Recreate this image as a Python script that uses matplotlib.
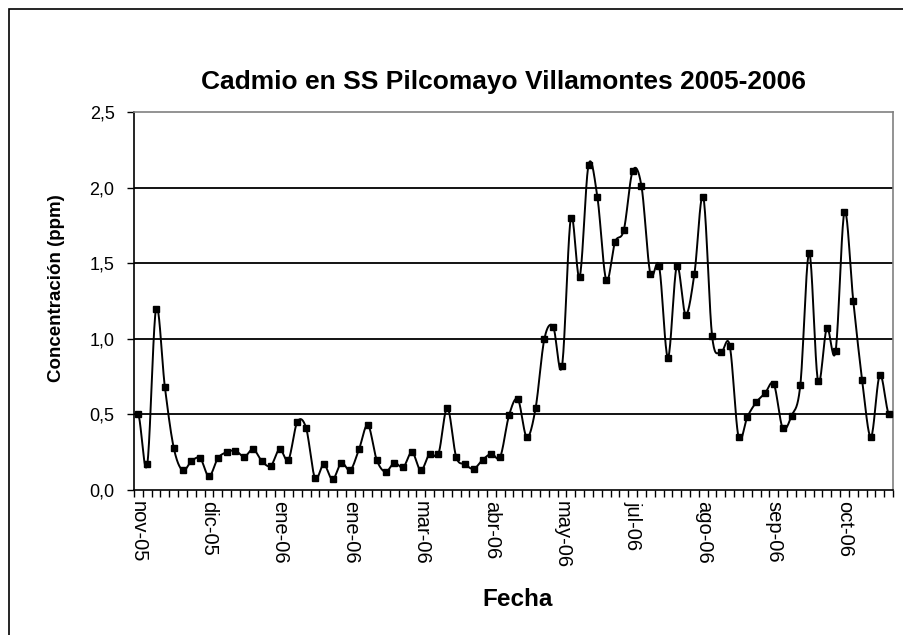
import matplotlib
matplotlib.use('Agg')
import matplotlib.pyplot as plt
import numpy as np
from matplotlib.patches import Rectangle

plt.rcParams['font.family'] = ['Liberation Sans', 'DejaVu Sans']

# Cadmio (ppm), one value per sample
cadmio = [0.50, 0.17, 1.20, 0.68, 0.28, 0.13, 0.19, 0.21, 0.09, 0.21,
          0.25, 0.26, 0.22, 0.27, 0.19, 0.16, 0.27, 0.20, 0.45, 0.41,
          0.08, 0.17, 0.07, 0.18, 0.13, 0.27, 0.43, 0.20, 0.12, 0.18,
          0.15, 0.25, 0.13, 0.24, 0.24, 0.545, 0.22, 0.17, 0.14, 0.20,
          0.24, 0.22, 0.495, 0.60, 0.35, 0.54, 1.00, 1.08, 0.82, 1.80,
          1.41, 2.15, 1.94, 1.39, 1.64, 1.72, 2.11, 2.01, 1.43, 1.48,
          0.876, 1.48, 1.16, 1.43, 1.94, 1.02, 0.91, 0.955, 0.35, 0.485,
          0.58, 0.64, 0.70, 0.41, 0.49, 0.695, 1.57, 0.72, 1.07, 0.92,
          1.84, 1.25, 0.73, 0.35, 0.76, 0.505]

# labels shown every 8 samples
etiquetas = ['nov-05', 'dic-05', 'ene-06', 'ene-06', 'mar-06', 'abr-06',
             'may-06', 'jul-06', 'ago-06', 'sep-06', 'oct-06']
paso = 8

y_ticks = [0.0, 0.5, 1.0, 1.5, 2.0, 2.5]


def suavizar(y, n=20):
    # catmull-rom curve through the points, like Excel's smoothed line
    y = np.asarray(y, dtype=float)
    p = np.concatenate([[y[0]], y, [y[-1]]])
    xs, ys = [], []
    t = np.linspace(0, 1, n, endpoint=False)
    for i in range(len(y) - 1):
        p0, p1, p2, p3 = p[i], p[i + 1], p[i + 2], p[i + 3]
        yy = 0.5 * ((2 * p1) + (-p0 + p2) * t +
                    (2 * p0 - 5 * p1 + 4 * p2 - p3) * t ** 2 +
                    (-p0 + 3 * p1 - 3 * p2 + p3) * t ** 3)
        xs.append(i + t)
        ys.append(yy)
    xs.append([len(y) - 1])
    ys.append([y[-1]])
    return np.concatenate(xs), np.concatenate(ys)


x = np.arange(len(cadmio))
xs, ys = suavizar(cadmio)

fig = plt.figure(figsize=(9.04, 6.35), dpi=100)
ax = fig.add_axes([134 / 904, 1 - 490 / 635, (893 - 134) / 904, (490 - 112) / 635])

# outer chart border
fig.patches.append(Rectangle((9 / 904, -0.05), 1.2, 1 - 9 / 635 + 0.05,
                             transform=fig.transFigure, fill=False,
                             edgecolor='black', linewidth=1.2))

for v in y_ticks[1:-1]:
    ax.axhline(v, color='black', linewidth=1.3, zorder=1)

ax.plot(xs, ys, color='black', linewidth=1.4, zorder=3)
ax.plot(x, cadmio, linestyle='none', marker='s', markersize=4.2,
        color='black', zorder=4)

ax.set_xlim(-0.5, len(cadmio) - 0.5)
ax.set_ylim(0, 2.5)

ax.set_yticks(y_ticks)
ax.set_yticklabels([('%.1f' % v).replace('.', ',') for v in y_ticks], fontsize=13)

ax.set_xticks(np.arange(0, len(etiquetas) * paso, paso))
ax.set_xticklabels(etiquetas, rotation=-90, fontsize=14.5)
ax.set_xticks(np.arange(-0.5, len(cadmio), 1), minor=True)
ax.tick_params(axis='x', which='major', length=0, pad=8)
ax.tick_params(axis='x', which='minor', length=5, width=1, direction='out')
ax.tick_params(axis='y', length=5, width=1, direction='out', pad=9)

ax.spines['left'].set_linewidth(1.2)
ax.spines['bottom'].set_linewidth(1.2)
ax.spines['top'].set_color('#808080')
ax.spines['right'].set_color('#808080')
ax.spines['top'].set_linewidth(1.2)
ax.spines['right'].set_linewidth(1.2)

fig.text(57 / 904, 1 - 288 / 635, 'Concentración (ppm)', fontsize=13.5,
         fontweight='bold', rotation=90, ha='center', va='center')
fig.text(518 / 904, 1 - 600 / 635, 'Fecha', fontsize=17.5, fontweight='bold',
         ha='center', va='center')
fig.text(504 / 904, 1 - 82 / 635, 'Cadmio en SS Pilcomayo Villamontes 2005-2006',
         fontsize=19, fontweight='bold', ha='center', va='center')

fig.savefig('out.png', dpi=100)
